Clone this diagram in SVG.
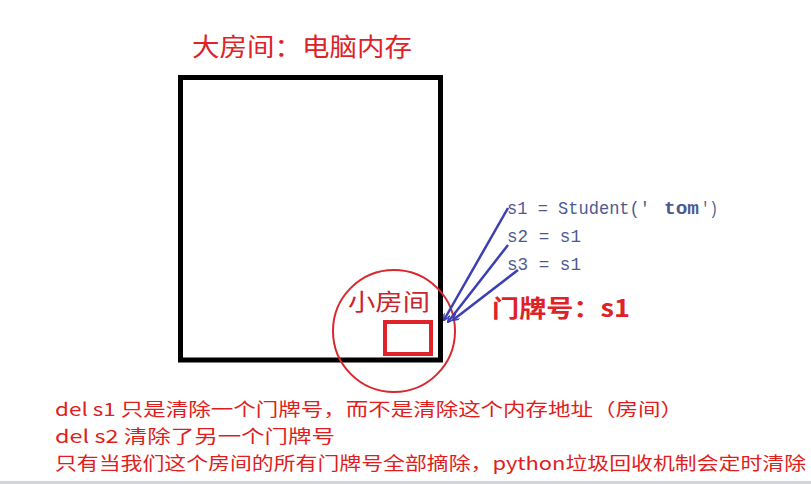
<svg xmlns="http://www.w3.org/2000/svg" width="811" height="484" viewBox="0 0 811 484">
<style>
.cjk{font-family:"Noto Sans CJK SC","Liberation Serif",serif;}
.red{fill:#dd2228;}
.code{font-family:"Liberation Mono","Noto Sans CJK SC",monospace;fill:#4d5a92;font-size:19px;}
.ptr{stroke:#3b3fb2;stroke-width:2.5;fill:none;}
</style>
<defs>
<marker id="ah" viewBox="0 0 10 10" refX="9" refY="5" markerWidth="7" markerHeight="7" orient="auto" markerUnits="userSpaceOnUse">
<path d="M0,0 L10,5 L0,10" fill="none" stroke="#3b3fb2" stroke-width="2"/>
</marker>
</defs>
<rect width="811" height="484" fill="#ffffff"/>
<g id="memory">
<text class="cjk red" x="192" y="56" font-size="25" textLength="220" lengthAdjust="spacingAndGlyphs">大房间：电脑内存</text>
<rect x="180.5" y="77.5" width="260" height="282.5" fill="none" stroke="#000" stroke-width="5"/>
</g>
<g id="small-room">
<ellipse cx="394" cy="331" rx="61" ry="61" fill="none" stroke="#d8282e" stroke-width="2"/>
<text class="cjk" x="348" y="310" font-size="23" fill="#c8262e" textLength="82" lengthAdjust="spacingAndGlyphs">小房间</text>
<rect x="385" y="322" width="46" height="32" fill="none" stroke="#e0222a" stroke-width="4"/>
</g>
<g id="doorplate">
<text class="cjk red" x="492" y="317" font-size="24" font-weight="bold" textLength="138" lengthAdjust="spacingAndGlyphs">门牌号：s1</text>
</g>
<g id="code">
<text class="code" x="507" y="214" textLength="143" lengthAdjust="spacingAndGlyphs">s1 = Student('</text>
<text class="code" x="664" y="214" font-weight="bold" fill="#3b4a80" textLength="35" lengthAdjust="spacingAndGlyphs">tom</text>
<text class="code" x="701" y="214" textLength="17" lengthAdjust="spacingAndGlyphs">')</text>
<text class="code" x="507" y="242" textLength="74" lengthAdjust="spacingAndGlyphs">s2 = s1</text>
<text class="code" x="507" y="270" textLength="74" lengthAdjust="spacingAndGlyphs">s3 = s1</text>
</g>
<g id="connectors">
<line class="ptr" x1="508" y1="208" x2="444" y2="320" marker-end="url(#ah)"/>
<line class="ptr" x1="508" y1="245" x2="448" y2="322" marker-end="url(#ah)"/>
<line class="ptr" x1="518" y1="270" x2="453" y2="320" marker-end="url(#ah)"/>
</g>
<g id="notes" class="cjk" fill="#e01e1e" font-size="18">
<text x="55" y="416" textLength="628" lengthAdjust="spacingAndGlyphs">del s1 只是清除一个门牌号，而不是清除这个内存地址（房间）</text>
<text x="55" y="443" textLength="280" lengthAdjust="spacingAndGlyphs">del s2 清除了另一个门牌号</text>
<text x="55" y="470" textLength="751" lengthAdjust="spacingAndGlyphs">只有当我们这个房间的所有门牌号全部摘除，python垃圾回收机制会定时清除</text>
</g>
<rect x="0" y="481" width="811" height="3" fill="#d0d4dc"/>
</svg>
